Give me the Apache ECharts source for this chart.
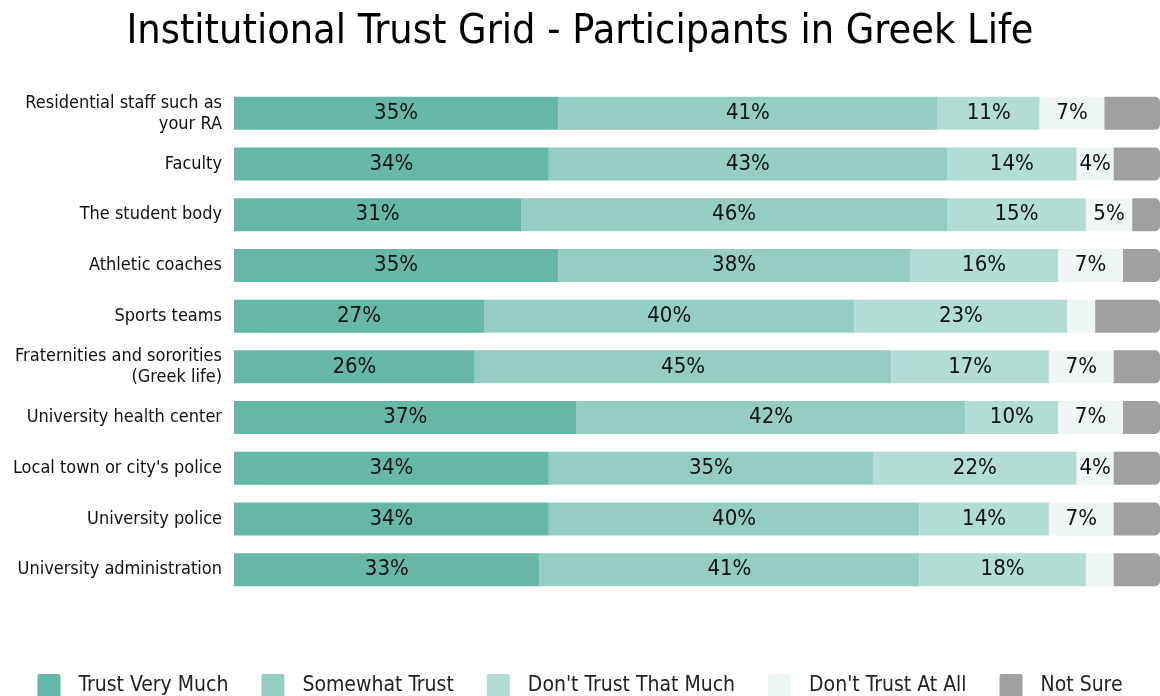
<!DOCTYPE html>
<html>
<head>
<meta charset="utf-8">
<script src="https://cdn.jsdelivr.net/npm/echarts@6/dist/echarts.min.js"></script>
<style>
  html, body { margin: 0; padding: 0; background: #ffffff; }
  #chart { width: 1160px; height: 696px; }
</style>
</head>
<body>
<div id="chart"></div>
<script>
// Institutions, listed top to bottom
const categories = [
  'Residential staff such as\nyour RA',
  'Faculty',
  'The student body',
  'Athletic coaches',
  'Sports teams',
  'Fraternities and sororities\n(Greek life)',
  'University health center',
  "Local town or city's police",
  'University police',
  'University administration'
];

// Percent of respondents per answer, same order as categories
const trustVeryMuch    = [35, 34, 31, 35, 27, 26, 37, 34, 34, 33];
const somewhatTrust    = [41, 43, 46, 38, 40, 45, 42, 35, 40, 41];
const dontTrustMuch    = [11, 14, 15, 16, 23, 17, 10, 22, 14, 18];
const dontTrustAtAll   = [ 7,  4,  5,  7,  3,  7,  7,  4,  7,  3];
const notSure          = [ 6,  5,  3,  4,  7,  5,  4,  5,  5,  5];

const seriesNames = ['Trust Very Much', 'Somewhat Trust', "Don't Trust That Much", "Don't Trust At All", 'Not Sure'];
const seriesData = [trustVeryMuch, somewhatTrust, dontTrustMuch, dontTrustAtAll, notSure];
const colors = ['#65b7a7', '#94cdc2', '#b2dcd4', '#eef7f5', '#a0a0a0'];
const showLabels = [true, true, true, true, false];

const FONT = '"DejaVu Sans Condensed", "DejaVu Sans", sans-serif';

const chart = echarts.init(document.getElementById('chart'), null, { renderer: 'canvas' });

const series = seriesNames.map((name, i) => ({
  name: name,
  type: 'bar',
  stack: 'total',
  barWidth: 33,
  data: seriesData[i],
  itemStyle: {
    color: colors[i],
    borderRadius: i === seriesNames.length - 1 ? [0, 5, 5, 0] : 0
  },
  label: {
    show: showLabels[i],
    position: 'inside',
    color: '#111',
    fontFamily: FONT,
    fontSize: 22,
    formatter: p => (p.value >= 4 ? p.value + '%' : '')
  },
  emphasis: { disabled: true }
}));

chart.setOption({
  backgroundColor: '#ffffff',
  animation: false,
  color: colors,
  title: {
    text: 'Institutional Trust Grid - Participants in Greek Life',
    left: 'center',
    top: 7,
    textStyle: { fontFamily: FONT, fontSize: 41, fontWeight: 'normal', color: '#000' }
  },
  grid: { left: 234, right: 0, top: 88, bottom: 101 },
  xAxis: {
    type: 'value',
    min: 0,
    max: 100,
    show: false
  },
  yAxis: {
    type: 'category',
    data: categories,
    inverse: true,
    axisLine: { show: false },
    axisTick: { show: false },
    axisLabel: {
      margin: 12,
      color: '#111',
      fontFamily: FONT,
      fontSize: 18,
      lineHeight: 21
    }
  },
  legend: {
    bottom: -7,
    left: 'center',
    itemWidth: 23,
    itemHeight: 24,
    itemGap: 33,
    icon: 'path://M2,0 L21,0 Q23,0 23,2 L23,22 Q23,24 21,24 L2,24 Q0,24 0,22 L0,2 Q0,0 2,0 Z',
    textStyle: {
      fontFamily: FONT,
      fontSize: 21,
      color: '#222',
      padding: [0, 0, 0, 13]
    },
    data: seriesNames
  },
  series: series
});
</script>
</body>
</html>
